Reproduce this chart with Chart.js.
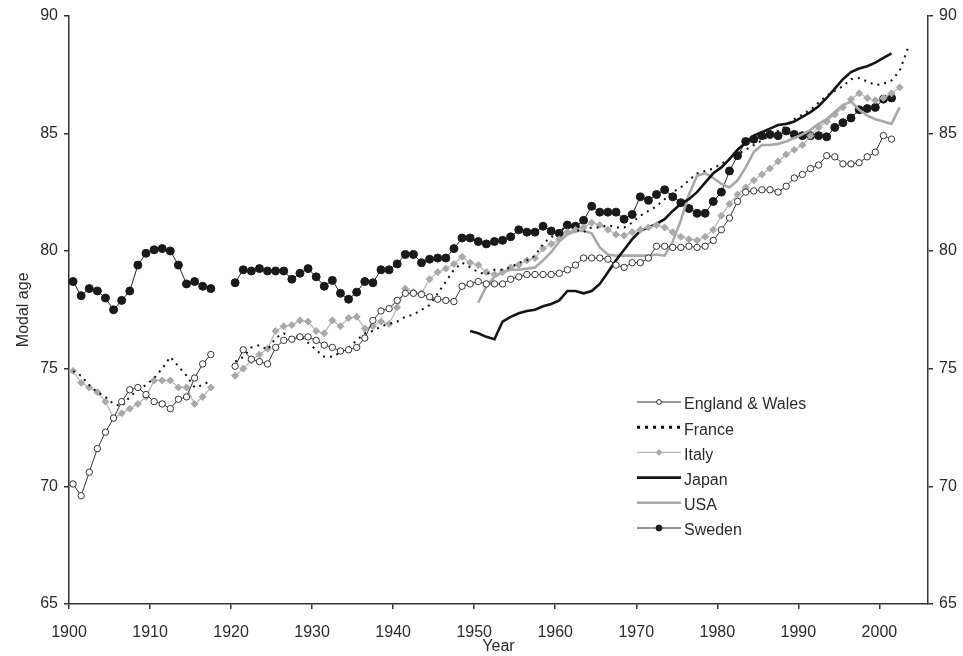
<!DOCTYPE html>
<html>
<head>
<meta charset="utf-8">
<script src="https://cdn.jsdelivr.net/npm/chart.js@4/dist/chart.umd.min.js"></script>
<style>
    html, body { margin: 0; padding: 0; background: #fff; }
</style>
</head>
<body>
<canvas id="myChart" width="963" height="656"></canvas>
<script>
// Ejes
const xTicks = [1900, 1910, 1920, 1930, 1940, 1950, 1960, 1970, 1980, 1990, 2000];
const yTicks = [65, 70, 75, 80, 85, 90];

// Series (edad modal), un valor por año desde el año inicial; null = sin dato
const englandStart = 1900;
const england = [
    70.1, 69.6, 70.6, 71.6, 72.3, 72.9, 73.6, 74.1, 74.2, 73.9, 73.6, 73.5, 73.3, 73.7, 73.8, 74.6, 75.2, 75.6,
    null, null,
    75.1, 75.8, 75.4, 75.3, 75.2, 75.9, 76.2, 76.25, 76.35, 76.35, 76.2, 76.0, 75.9, 75.75, 75.8, 75.9,
    76.3, 77.05, 77.45, 77.55, 77.9, 78.2, 78.2, 78.15, 78.05, 77.95, 77.9, 77.85, 78.5, 78.6, 78.7,
    78.6, 78.6, 78.6, 78.8, 78.9, 79.0, 79.0, 79.0, 79.0, 79.05, 79.2, 79.4, 79.7, 79.7, 79.7,
    79.65, 79.4, 79.3, 79.5, 79.5, 79.7, 80.2, 80.2, 80.15, 80.15, 80.2, 80.15, 80.2, 80.45,
    80.9, 81.4, 82.1, 82.5, 82.55, 82.6, 82.6, 82.5, 82.75, 83.1, 83.25, 83.5, 83.65, 84.05, 84.0,
    83.7, 83.7, 83.75, 84.0, 84.2, 84.9, 84.75
];

const franceStart = 1900;
const france = [
    74.9, 74.7, 74.3, 74.0, 73.8, 73.5, 73.4, 73.8, 74.1, 74.3, 74.6, 75.0, 75.5, 75.1, 74.7, 74.2, 74.3, 74.5,
    null, null,
    75.3, 75.5, 75.9, 76.0, 75.8, 76.3, 76.5, 76.3, 76.4, 76.1, 75.8, 75.5, 75.5, 75.7, 75.9, 76.2,
    76.5, 76.6, 76.8, 76.9, 77.0, 77.2, 77.3, 77.5, 77.7, 78.2, 78.7, 79.2, 79.5, 79.3, 79.1,
    79.0, 79.2, 79.2, 79.3, 79.5, 79.6, 79.8, 80.3, 80.6, 80.7, 81.2, 80.9, 80.8, 81.0, 81.0,
    81.1, 81.0, 81.0, 81.2, 81.5, 81.7, 81.9, 82.2, 82.5, 82.7, 83.0, 83.3, 83.4, 83.5,
    83.7, 83.9, 84.1, 84.3, 84.5, 84.7, 84.9, 85.1, 85.3, 85.6, 85.8, 86.0, 86.3, 86.6, 86.8,
    87.0, 87.3, 87.35, 87.2, 87.05, 87.1, 87.25, 87.65, 88.6
];

const italyStart = 1900;
const italy = [
    74.9, 74.4, 74.2, 74.0, 73.6, 72.9, 73.1, 73.3, 73.5, 73.8, 74.5, 74.5, 74.5, 74.2, 74.2, 73.5, 73.8, 74.2,
    null, null,
    74.7, 75.0, 75.35, 75.6, 75.85, 76.6, 76.8, 76.85, 77.05, 77.0, 76.6, 76.5, 77.05, 76.8, 77.15, 77.2,
    76.7, 76.8, 77.0, 76.9, 77.6, 78.4, 78.25, 78.2, 78.8, 79.1, 79.25, 79.45, 79.75, 79.5, 79.4,
    79.1, 79.0, 79.1, 79.3, 79.4, 79.6, 79.7, 80.1, 80.3, 80.5, 80.8, 80.9, 81.0, 81.2, 81.1,
    80.9, 80.7, 80.65, 80.8, 80.9, 81.0, 81.1, 81.0, 80.8, 80.6, 80.5, 80.45, 80.6, 80.9,
    81.5, 82.0, 82.4, 82.7, 83.0, 83.25, 83.5, 83.8, 84.1, 84.3, 84.5, 84.9, 85.25, 85.5, 85.8,
    86.1, 86.45, 86.7, 86.5, 86.4, 86.5, 86.7, 86.95
];

const japanStart = 1949;
const japan = [
    76.6, 76.5, 76.35, 76.25, 77.0, 77.2, 77.35, 77.45, 77.5, 77.65, 77.75, 77.9, 78.3, 78.3, 78.2, 78.3,
    78.6, 79.1, 79.6, 80.05, 80.5, 80.85, 81.0, 81.15, 81.35, 81.7, 82.0, 82.2, 82.5, 82.9, 83.3,
    83.55, 83.9, 84.3, 84.6, 84.9, 85.05, 85.2, 85.35, 85.4, 85.5, 85.7, 85.9, 86.15, 86.5, 86.9,
    87.3, 87.6, 87.75, 87.85, 88.0, 88.2, 88.4
];

const usaStart = 1950;
const usa = [
    77.8, 78.5, 78.9, 79.1, 79.2, 79.2, 79.25, 79.3, 79.6, 79.95, 80.4, 80.7, 80.85, 80.85, 80.75,
    80.15, 79.85, 79.8, 79.8, 79.8, 79.8, 79.8, 79.85, 79.8, 80.4, 81.3, 82.4, 83.2, 83.3, 83.1,
    82.85, 82.7, 83.0, 83.55, 84.2, 84.5, 84.5, 84.55, 84.65, 84.8, 84.95, 85.15, 85.4, 85.6, 85.9,
    86.2, 86.35, 86.0, 85.75, 85.6, 85.5, 85.4, 86.1
];

const swedenStart = 1900;
const sweden = [
    78.7, 78.1, 78.4, 78.3, 78.0, 77.5, 77.9, 78.3, 79.4, 79.9, 80.05, 80.1, 80.0, 79.4, 78.6, 78.7, 78.5, 78.4,
    null, null,
    78.65, 79.2, 79.15, 79.25, 79.15, 79.15, 79.15, 78.8, 79.05, 79.25, 78.9, 78.5, 78.75, 78.2, 77.95, 78.25,
    78.7, 78.65, 79.2, 79.2, 79.45, 79.85, 79.85, 79.5, 79.65, 79.7, 79.7, 80.1, 80.55, 80.55, 80.4,
    80.3, 80.4, 80.45, 80.6, 80.9, 80.8, 80.8, 81.05, 80.85, 80.75, 81.1, 81.05, 81.3, 81.9, 81.65,
    81.65, 81.65, 81.35, 81.55, 82.3, 82.15, 82.4, 82.6, 82.3, 82.05, 81.8, 81.6, 81.6, 82.1,
    82.5, 83.4, 84.05, 84.65, 84.75, 84.9, 84.95, 84.9, 85.1, 84.95, 84.9, 84.9, 84.9, 84.85, 85.25,
    85.45, 85.65, 86.0, 86.05, 86.1, 86.45, 86.5
];

// Valores anuales, dibujados a mitad de año
function puntos(inicio, valores) {
    return valores.map((v, i) => ({ x: inicio + i + 0.5, y: v }));
}

const fuente = { family: '"Liberation Sans", Arial, sans-serif', size: 16 };
const colorTexto = '#2b2b2b';

// Leyenda dentro del gráfico
const leyenda = {
    id: 'leyenda',
    afterDraw(chart) {
        const ctx = chart.ctx;
        const x0 = 637, x1 = 681, y0 = 402, paso = 25.2;
        chart.data.datasets.forEach((ds, i) => {
            const y = y0 + i * paso;
            ctx.save();
            ctx.strokeStyle = ds.borderColor;
            ctx.lineWidth = ds.borderWidth;
            ctx.setLineDash(ds.label === 'France' ? [3, 5] : []);
            if (ds.label === 'France') ctx.lineWidth = 3;
            ctx.beginPath();
            ctx.moveTo(x0, y);
            ctx.lineTo(x1, y);
            ctx.stroke();
            ctx.setLineDash([]);
            if (ds.pointRadius > 0) {
                ctx.fillStyle = ds.pointBackgroundColor;
                ctx.strokeStyle = ds.pointBorderColor;
                Chart.helpers.drawPoint(ctx, {
                    pointStyle: ds.pointStyle,
                    radius: ds.pointRadius * 0.75,
                    borderWidth: ds.pointBorderWidth,
                    rotation: 0
                }, (x0 + x1) / 2, y);
            }
            ctx.fillStyle = colorTexto;
            ctx.font = '16px "Liberation Sans", Arial, sans-serif';
            ctx.textBaseline = 'middle';
            ctx.fillText(ds.label, x1 + 3, y + 3);
            ctx.restore();
        });
    }
};

const ejeY = (pos, ancho, titulo) => ({
    type: 'linear',
    position: pos,
    min: 65,
    max: 90,
    afterBuildTicks: s => { s.ticks = yTicks.map(v => ({ value: v })); },
    afterFit: s => { s.width = ancho; },
    ticks: { font: fuente, color: colorTexto, padding: 6 },
    grid: { drawOnChartArea: false, drawTicks: true, tickLength: 5, color: '#333', lineWidth: 1.5 },
    border: { display: true, color: '#333', width: 1.5 },
    title: titulo ? { display: true, text: titulo, font: fuente, color: colorTexto, padding: { top: 14, bottom: 0 } } : { display: false }
});

const ctx = document.getElementById('myChart').getContext('2d');
const myChart = new Chart(ctx, {
    type: 'line',
    data: {
        datasets: [
            {
                label: 'England & Wales',
                data: puntos(englandStart, england),
                borderColor: '#333',
                borderWidth: 1,
                pointStyle: 'circle',
                pointRadius: 3.2,
                pointBackgroundColor: '#fff',
                pointBorderColor: '#333',
                pointBorderWidth: 1
            },
            {
                label: 'France',
                data: puntos(franceStart, france),
                borderColor: '#111',
                borderWidth: 2,
                borderDash: [2, 5],
                pointRadius: 0
            },
            {
                label: 'Italy',
                data: puntos(italyStart, italy),
                borderColor: '#b3b3b3',
                borderWidth: 1.2,
                pointStyle: 'rectRot',
                pointRadius: 3.5,
                pointBackgroundColor: '#a9a9a9',
                pointBorderColor: '#a9a9a9',
                pointBorderWidth: 1
            },
            {
                label: 'Japan',
                data: puntos(japanStart, japan),
                borderColor: '#151515',
                borderWidth: 2.6,
                pointRadius: 0
            },
            {
                label: 'USA',
                data: puntos(usaStart, usa),
                borderColor: '#a8a8a8',
                borderWidth: 2.6,
                pointRadius: 0
            },
            {
                label: 'Sweden',
                data: puntos(swedenStart, sweden),
                borderColor: '#222',
                borderWidth: 1,
                pointStyle: 'circle',
                pointRadius: 4,
                pointBackgroundColor: '#1a1a1a',
                pointBorderColor: '#1a1a1a',
                pointBorderWidth: 1
            }
        ]
    },
    options: {
        responsive: false,
        animation: false,
        devicePixelRatio: 1,
        spanGaps: false,
        layout: { padding: { top: 15, left: 0, right: 0, bottom: 0 } },
        plugins: { legend: { display: false }, tooltip: { enabled: false } },
        scales: {
            x: {
                type: 'linear',
                min: 1900,
                max: 2006,
                afterBuildTicks: s => { s.ticks = xTicks.map(v => ({ value: v })); },
                afterFit: s => { s.height = 52; },
                ticks: { font: fuente, color: colorTexto, padding: 14, maxRotation: 0, autoSkip: false, callback: v => String(v) },
                grid: { drawOnChartArea: false, drawTicks: true, tickLength: 5, color: '#333', lineWidth: 1.5 },
                border: { display: true, color: '#333', width: 1.5 },
                title: { display: true, text: 'Year', font: fuente, color: colorTexto, padding: { top: 0, bottom: 0 } }
            },
            y: ejeY('left', 69, 'Modal age'),
            y2: ejeY('right', 35, null)
        }
    },
    plugins: [leyenda]
});
</script>
</body>
</html>
